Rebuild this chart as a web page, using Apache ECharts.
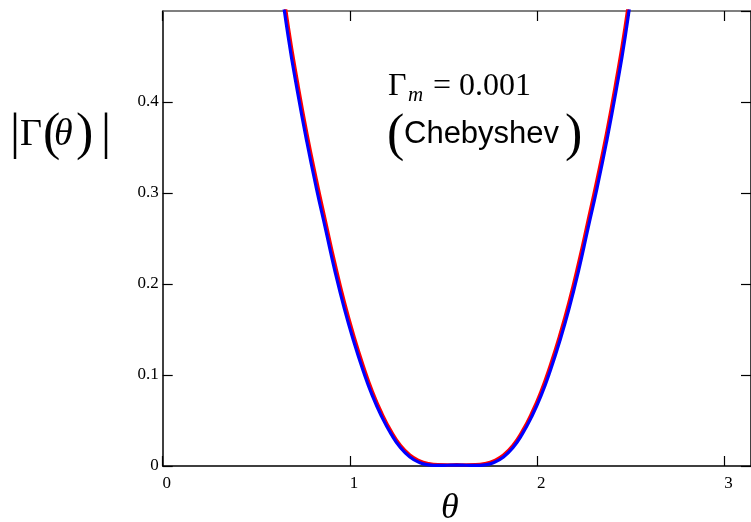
<!DOCTYPE html>
<html>
<head>
<meta charset="utf-8">
<style>
  html, body { margin: 0; padding: 0; background: #fff; }
  #chart { width: 751px; height: 522px; }
</style>
<script src="https://cdn.jsdelivr.net/npm/echarts@6/dist/echarts.min.js"></script>
</head>
<body>
<div id="chart"></div>
<script>
// Electrical length θ (rad) sampled across the band
const theta = [0.62, 0.67, 0.72, 0.77, 0.82, 0.87, 0.92, 0.97, 1.02, 1.07,
               1.12, 1.17, 1.22, 1.27, 1.32, 1.37, 1.42, 1.47, 1.52, 1.57,
               1.62, 1.67, 1.72, 1.77, 1.82, 1.87, 1.92, 1.97, 2.02, 2.07,
               2.12, 2.17, 2.22, 2.27, 2.32, 2.37, 2.42, 2.47, 2.52];

// |Γ(θ)| of the exact multisection response (red)
const gammaExact = [0.558, 0.483, 0.421, 0.365, 0.315, 0.268, 0.222, 0.180, 0.1432, 0.1105,
                    0.0816, 0.0577, 0.0380, 0.0224, 0.0120, 0.0058, 0.0025, 0.0013, 0.0012, 0.0013,
                    0.0012, 0.0013, 0.0025, 0.0058, 0.0120, 0.0224, 0.0380, 0.0577, 0.0816, 0.1105,
                    0.1432, 0.180, 0.222, 0.268, 0.315, 0.365, 0.421, 0.483, 0.558];

// |Γ(θ)| of the Chebyshev design (blue)
const gammaCheb = [0.546, 0.472, 0.411, 0.356, 0.306, 0.260, 0.214, 0.173, 0.137, 0.105,
                   0.077, 0.054, 0.035, 0.020, 0.010, 0.004, 0.0012, 0.0006, 0.0008, 0.001,
                   0.0008, 0.0006, 0.0012, 0.004, 0.010, 0.020, 0.035, 0.054, 0.077, 0.105,
                   0.137, 0.173, 0.214, 0.260, 0.306, 0.356, 0.411, 0.472, 0.546];

const xTicks = [0, 1, 2, 3];
const yTicks = [0, 0.1, 0.2, 0.3, 0.4];

const pairs = (xs, ys) => xs.map((x, i) => [x, ys[i]]);

const serif = 'Liberation Serif';

const chart = echarts.init(document.getElementById('chart'), null, { renderer: 'canvas' });

const lineOf = color => ({ show: true, onZero: false, lineStyle: { color: color, width: 1.5 } });
const tickStyle = { show: true, inside: true, length: 10, lineStyle: { color: '#000', width: 1.2 } };
const labelFont = { color: '#000', fontFamily: serif, fontSize: 17 };

chart.setOption({
  animation: false,
  backgroundColor: '#fff',
  grid: { left: 162.7, right: -2.3, top: 11, bottom: 56, containLabel: false },
  xAxis: [
    {
      type: 'value', min: 0, max: 3.1416, interval: 1, position: 'bottom',
      axisLine: lineOf('#000'), axisTick: tickStyle, splitLine: { show: false },
      axisLabel: Object.assign({
        show: true, margin: 9, padding: [0, 0, 0, 8], showMaxLabel: false,
        formatter: v => (xTicks.indexOf(v) >= 0 ? String(v) : '')
      }, labelFont)
    },
    {
      type: 'value', min: 0, max: 3.1416, interval: 1, position: 'top',
      axisLine: lineOf('#555'), axisTick: tickStyle,
      axisLabel: { show: false }, splitLine: { show: false }
    }
  ],
  yAxis: [
    {
      type: 'value', min: 0, max: 0.5, interval: 0.1, position: 'left',
      axisLine: lineOf('#000'), axisTick: tickStyle, splitLine: { show: false },
      axisLabel: Object.assign({
        show: true, margin: 4, showMaxLabel: false,
        formatter: v => (yTicks.some(t => Math.abs(t - v) < 1e-9) ? String(+v.toFixed(1)) : '')
      }, labelFont)
    },
    {
      type: 'value', min: 0, max: 0.5, interval: 0.1, position: 'right',
      axisLine: lineOf('#000'), axisTick: tickStyle,
      axisLabel: { show: false }, splitLine: { show: false }
    }
  ],
  series: [
    {
      name: 'exact', type: 'line', smooth: true, showSymbol: false, clip: true,
      data: pairs(theta, gammaExact),
      lineStyle: { color: '#ff0000', width: 3.4 }, z: 2
    },
    {
      name: 'Chebyshev', type: 'line', smooth: true, showSymbol: false, clip: true,
      data: pairs(theta, gammaCheb),
      lineStyle: { color: '#0000ff', width: 3.2 }, z: 3
    }
  ],
  graphic: [
    // y-axis title |Γ(θ)|
    { type: 'text', left: 10, top: 110, style: { text: '|', font: '50px "Liberation Serif"', fill: '#000' } },
    { type: 'text', left: 20, top: 116, style: { text: 'Γ', font: '38px "Liberation Serif"', fill: '#000' } },
    { type: 'text', left: 43, top: 109, style: { text: '(', font: '52px "Liberation Serif"', fill: '#000' } },
    { type: 'text', left: 54, top: 116, style: { text: 'θ', font: 'italic 38px "Liberation Serif"', fill: '#000' } },
    { type: 'text', left: 76, top: 109, style: { text: ')', font: '52px "Liberation Serif"', fill: '#000' } },
    { type: 'text', left: 101, top: 110, style: { text: '|', font: '50px "Liberation Serif"', fill: '#000' } },
    // x-axis title θ
    { type: 'text', left: 441, top: 491, style: { text: 'θ', font: 'italic 36px "Liberation Serif"', fill: '#000' } },
    // annotation Γm = 0.001
    { type: 'text', left: 388, top: 71, style: { text: 'Γ', font: '32px "Liberation Serif"', fill: '#000' } },
    { type: 'text', left: 408, top: 85, style: { text: 'm', font: 'italic 21px "Liberation Serif"', fill: '#000' } },
    { type: 'text', left: 433, top: 71, style: { text: '= 0.001', font: '32px "Liberation Serif"', fill: '#000' } },
    // annotation (Chebyshev)
    { type: 'text', left: 387, top: 110, style: { text: '(', font: '52px "Liberation Serif"', fill: '#000' } },
    { type: 'text', left: 404, top: 119, style: { text: 'Chebyshev', font: '31px "Liberation Sans"', fill: '#000' } },
    { type: 'text', left: 565, top: 110, style: { text: ')', font: '52px "Liberation Serif"', fill: '#000' } }
  ]
});
</script>
</body>
</html>
